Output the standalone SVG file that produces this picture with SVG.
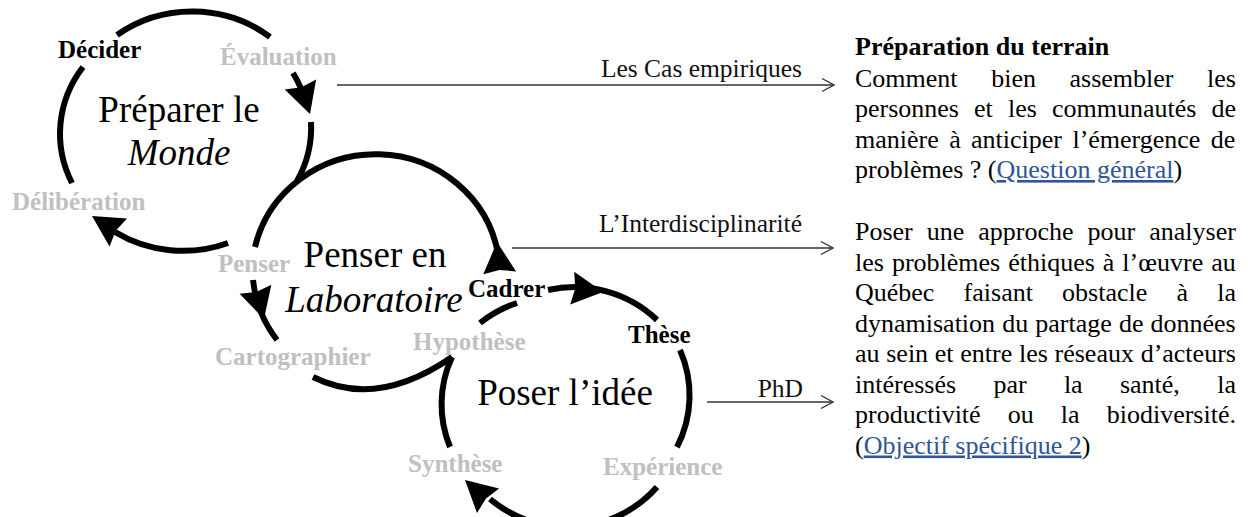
<svg xmlns="http://www.w3.org/2000/svg" xmlns:xlink="http://www.w3.org/1999/xlink" width="1248" height="517" viewBox="0 0 1248 517">
  <style>
    .arc { fill: none; stroke: #000; stroke-width: 6; stroke-linecap: butt; }
    .head { fill: #000; }
    .step { font-family: "Liberation Serif", "Times New Roman", serif; font-weight: bold; font-size: 25px; }
    .grey { fill: #c0c0c0; }
    .dark { fill: #000; }
    .big { font-family: "Liberation Serif", "Times New Roman", serif; font-size: 37px; fill: #000; text-anchor: middle; }
    .it { font-style: italic; }
    .conn { fill: none; stroke: #333; stroke-width: 1.4; marker-end: url(#open); }
    .clabel { font-family: "Liberation Serif", "Times New Roman", serif; font-size: 25.5px; fill: #111; text-anchor: end; }
    .para { font-family: "Liberation Serif", "Times New Roman", serif; font-size: 26px; fill: #000; }
    .link { fill: #2e5597; text-decoration: underline; }
  </style>
  <defs>
    <!-- filled arrowhead, tip at origin pointing along +x -->
    <path id="ah" d="M0,0 L-31,-16.5 L-28,0 L-31,16.5 Z"/>
    <!-- open chevron for the connectors -->
    <marker id="open" markerUnits="userSpaceOnUse" markerWidth="16" markerHeight="16" refX="14" refY="8" orient="auto">
      <path d="M2,1.5 L14,8 L2,14.5" fill="none" stroke="#333" stroke-width="1.4"/>
    </marker>
  </defs>

  <!-- Cycle 1: Préparer le Monde -->
  <g id="cycle-monde">
    <path class="arc" d="M117,35 A124,115 0 0 1 270,37"/>
    <path class="arc" d="M293,73 A124,115 0 0 1 305,100"/>
    <path class="arc" d="M311,122 A124,115 0 0 1 297,181"/>
    <path class="arc" d="M228,243 A124,115 0 0 1 115,232"/>
    <path class="arc" d="M83,67 A124,115 0 0 0 72,183"/>
    <use class="head" xlink:href="#ah" transform="translate(310,114) rotate(72)"/>
    <use class="head" xlink:href="#ah" transform="translate(92,216) rotate(212)"/>
    <text class="step dark" x="58" y="58">Décider</text>
    <text class="step grey" x="220" y="65">Évaluation</text>
    <text class="step grey" x="12" y="210">Délibération</text>
    <text class="big" x="179" y="122">Préparer le</text>
    <text class="big it" x="179" y="165">Monde</text>
  </g>

  <!-- Cycle 2: Penser en Laboratoire -->
  <g id="cycle-laboratoire">
    <path class="arc" d="M255,247 A124,120 0 0 1 498,254"/>
    <path class="arc" d="M253,280 A124,120 0 0 0 277,340"/>
    <path class="arc" d="M313,377 Q377,409 452,357"/>
    <use class="head" xlink:href="#ah" transform="translate(264,319) rotate(74)"/>
    <use class="head" xlink:href="#ah" transform="translate(497,242) rotate(-95)"/>
    <text class="step grey" x="218" y="272">Penser</text>
    <text class="step grey" x="215" y="365">Cartographier</text>
    <text class="step dark" x="468" y="297">Cadrer</text>
    <text class="big" x="375" y="267">Penser en</text>
    <text class="big it" x="374" y="312">Laboratoire</text>
  </g>

  <!-- Cycle 3: Poser l'idée -->
  <g id="cycle-idee">
    <path class="arc" d="M480,323 A118,115 0 0 1 517,303"/>
    <path class="arc" d="M548,290 A118,115 0 0 1 657,320"/>
    <path class="arc" d="M680,350 A118,115 0 0 1 677,447"/>
    <path class="arc" d="M657,487 A118,115 0 0 1 490,499"/>
    <path class="arc" d="M450,447 A118,115 0 0 1 452,357"/>
    <use class="head" xlink:href="#ah" transform="translate(603,292) rotate(7)"/>
    <use class="head" xlink:href="#ah" transform="translate(465,480) rotate(222)"/>
    <text class="step grey" x="413" y="350">Hypothèse</text>
    <text class="step dark" x="628" y="343">Thèse</text>
    <text class="step grey" x="408" y="472">Synthèse</text>
    <text class="step grey" x="603" y="475">Expérience</text>
    <text class="big" x="565" y="405">Poser l’idée</text>
  </g>

  <!-- Connectors to the descriptions -->
  <g id="connectors">
    <line class="conn" x1="337" y1="85" x2="834" y2="85"/>
    <text class="clabel" x="802" y="77">Les Cas empiriques</text>
    <line class="conn" x1="512" y1="248" x2="833" y2="248"/>
    <text class="clabel" x="802" y="232">L’Interdisciplinarité</text>
    <line class="conn" x1="707" y1="402" x2="833" y2="402"/>
    <text class="clabel" x="803" y="397">PhD</text>
  </g>

  <!-- Description: question générale -->
  <g id="desc-terrain" class="para">
    <text x="855" y="55" font-weight="bold">Préparation du terrain</text>
    <text x="855" y="87" word-spacing="27.1">Comment bien assembler les</text>
    <text x="855" y="117" word-spacing="8.6">personnes et les communautés de</text>
    <text x="855" y="148" word-spacing="3.9">manière à anticiper l’émergence de</text>
    <text x="855" y="178">problèmes ? (<tspan class="link">Question général</tspan>)</text>
  </g>

  <!-- Description: objectif spécifique 2 -->
  <g id="desc-objectif" class="para">
    <text x="855" y="240" word-spacing="7.5">Poser une approche pour analyser</text>
    <text x="855" y="270.5" word-spacing="1.5">les problèmes éthiques à l’œuvre au</text>
    <text x="855" y="301" word-spacing="22.7">Québec faisant obstacle à la</text>
    <text x="855" y="331.5" word-spacing="0.6">dynamisation du partage de données</text>
    <text x="855" y="362" word-spacing="0.2">au sein et entre les réseaux d’acteurs</text>
    <text x="855" y="392.5" word-spacing="30.8">intéressés par la santé, la</text>
    <text x="855" y="423" word-spacing="20.6">productivité ou la biodiversité.</text>
    <text x="855" y="453.5">(<tspan class="link">Objectif spécifique 2</tspan>)</text>
  </g>
</svg>
